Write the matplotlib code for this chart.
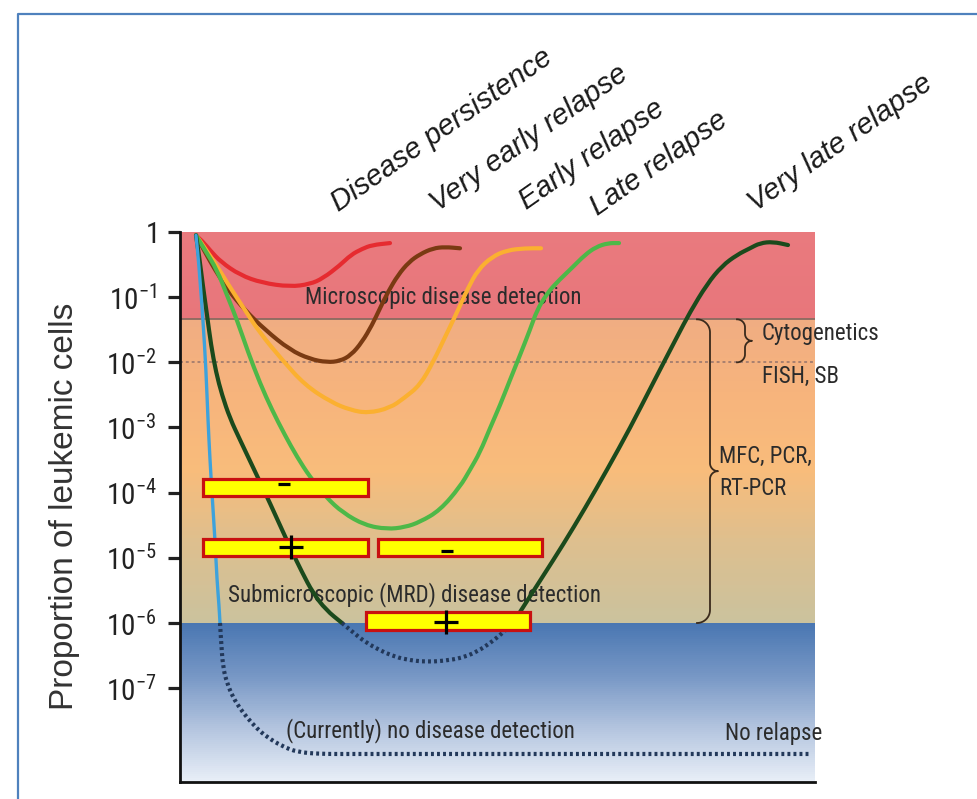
import numpy as np
import matplotlib
matplotlib.use("Agg")
import matplotlib.pyplot as plt
from matplotlib.colors import LinearSegmentedColormap
from matplotlib.lines import Line2D
from matplotlib.patches import Rectangle, PathPatch
from matplotlib.path import Path

# x: time after diagnosis (arbitrary units), y values: log10(proportion of leukemic cells)
t_persist = [16, 23, 30, 41, 60, 82, 110, 130, 143, 160, 171, 182, 192, 210]
l_persist = [-0.05, -0.15, -0.28, -0.46, -0.66, -0.78, -0.84, -0.80, -0.71, -0.51, -0.35, -0.26, -0.20, -0.17]

t_very_early = [16, 25, 35, 48, 65, 85, 110, 130, 147, 160, 171, 182, 192, 200, 208, 218, 229, 240, 253,
                265, 280]
l_very_early = [-0.05, -0.31, -0.58, -0.89, -1.20, -1.50, -1.81, -1.95, -2.00, -1.98, -1.89, -1.69, -1.43,
                -1.17, -0.92, -0.66, -0.46, -0.34, -0.25, -0.23, -0.25]

t_early = [16, 32, 48, 65, 80, 102, 125, 151, 170, 188, 210, 224, 240, 253, 267, 278, 288, 298, 312, 327, 345, 361]
l_early = [-0.05, -0.40, -0.80, -1.20, -1.55, -1.96, -2.35, -2.61, -2.73, -2.78, -2.70, -2.55, -2.35, -2.00,
           -1.55, -1.20, -0.86, -0.58, -0.38, -0.28, -0.25, -0.25]

t_late = [16, 25, 37, 47, 57, 68, 80, 92, 105, 117, 130, 146, 163, 185, 207, 225, 240, 260, 280, 290, 300,
          310, 320, 330, 340, 350, 357, 366, 375, 392, 405, 416, 428, 439]
l_late = [-0.05, -0.28, -0.58, -0.97, -1.35, -1.84, -2.32, -2.73, -3.12, -3.45, -3.76, -4.07, -4.31, -4.50,
          -4.56, -4.53, -4.45, -4.27, -3.91, -3.65, -3.38, -3.01, -2.66, -2.27, -1.89, -1.50, -1.20, -0.97,
          -0.80, -0.55, -0.35, -0.23, -0.17, -0.17]

t_very_late = [16, 19, 23, 27, 31, 36, 42, 50, 60, 73, 90, 110, 122, 133, 146, 162,
               172, 185, 200, 212, 225, 247, 270, 285, 298, 310, 322, 333,
               343, 363, 383, 405, 427, 450, 473, 497, 510, 527, 542, 557, 570, 580, 593, 608]
l_very_late = [-0.05, -0.35, -0.84, -1.27, -1.73, -2.15, -2.50, -2.86, -3.19, -3.61, -4.16, -4.84, -5.22,
               -5.54, -5.80, -6.00,
               -6.13, -6.29, -6.42, -6.50, -6.56, -6.60, -6.57, -6.52, -6.43, -6.31, -6.16, -6.00,
               -5.76, -5.28, -4.80, -4.24, -3.65, -3.01, -2.32, -1.61, -1.23, -0.80, -0.52, -0.35,
               -0.25, -0.17, -0.15, -0.20]

t_no_relapse = [16, 18, 20, 23, 26, 28, 30, 32, 35, 37, 39, 40, 41, 43, 47, 53, 60, 67, 77, 87, 102, 117,
                140, 170, 630]
l_no_relapse = [-0.05, -0.35, -0.74, -1.35, -2.12, -2.89, -3.50, -4.01, -4.73, -5.34, -5.73, -6.00, -6.26,
                -6.68, -6.92, -7.14, -7.31, -7.45, -7.62, -7.75, -7.89, -7.98, -8.01, -8.01, -8.01]

# detection thresholds (log10)
microscopic_limit = -1.34
cytogenetic_limit = -2.0
mrd_limit = -6.0

# MRD test results drawn as yellow bars
bar_start = [23, 23, 198, 186]
bar_end = [188, 188, 362, 350]
bar_level = [-3.92, -4.84, -4.84, -5.97]
bar_sign = ["-", "+", "-", "+"]
sign_t = [104, 111, 267, 266]
sign_level = [-3.86, -4.84, -4.89, -5.98]

outcome_labels = ["Disease persistence", "Very early relapse", "Early relapse", "Late relapse",
                  "Very late relapse"]
tick_labels = ["1"] + [r"10^{-%d}" % k for k in range(1, 8)]

COND = ["Roboto Condensed", "Liberation Sans", "DejaVu Sans"]
plt.rcParams["mathtext.fontset"] = "custom"
plt.rcParams["mathtext.rm"] = "Roboto Condensed"
TXT = "#2b2b2b"
DOTS = "#22385a"

fig = plt.figure(figsize=(9.78, 7.99), dpi=100)
ax = fig.add_axes([180 / 978, 1 - 782 / 799, 635 / 978, 550 / 799])
ax.set_yscale("log")
ax.set_xlim(0, 635)
ax.set_ylim(10 ** -8.44, 1)


def band(lo, hi, colors):
    # vertical gradient between two log10 levels
    cmap = LinearSegmentedColormap.from_list("band", colors)
    yy = np.logspace(lo, hi, 80)
    z = np.linspace(0, 1, 79).reshape(-1, 1)
    ax.pcolormesh([0, 635], yy, z, cmap=cmap, shading="flat", edgecolors="none",
                  antialiased=False, zorder=0)


band(microscopic_limit, 0, ["#e8767b", "#e97a7e"])
band(mrd_limit, microscopic_limit, ["#cbc29d", "#dcbf8f", "#f8bc7b", "#f7b47c", "#f0ad82"])
band(-8.44, mrd_limit, ["#e8eef7", "#b4c5df", "#7797c5", "#4a77b2"])

ax.plot([0, 635], [10 ** microscopic_limit] * 2, color="#8a6a60", lw=1.3, zorder=1)
ax.plot([0, 635], [10 ** cytogenetic_limit] * 2, color="#a8806f", lw=1.4, ls=(0, (1.5, 1.5)), zorder=1)


def smooth(t, logv):
    # quadratic bezier through the midpoints, built in (t, log10) space
    pts = np.column_stack([t, logv])
    verts, codes = [pts[0]], [Path.MOVETO]
    for i in range(1, len(pts) - 1):
        verts += [pts[i], (pts[i] + pts[i + 1]) / 2]
        codes += [Path.CURVE3, Path.CURVE3]
    verts.append(pts[-1])
    codes.append(Path.LINETO)
    verts = np.array(verts)
    verts[:, 1] = 10.0 ** verts[:, 1]
    return Path(verts, codes)


def course(t, logv, color, lw=3.0):
    t = np.asarray(t, float)
    logv = np.asarray(logv, float)
    # split into runs above (solid) and below (dotted) the MRD detection limit
    below = [(logv[i] <= mrd_limit) and (logv[i + 1] <= mrd_limit) for i in range(len(t) - 1)]
    start = 0
    for i in range(1, len(below) + 1):
        if i == len(below) or below[i] != below[start]:
            seg = slice(start, i + 1)
            if below[start]:
                patch = PathPatch(smooth(t[seg], logv[seg]), fill=False, ec=DOTS, lw=3.0,
                                  ls=(0, (0.7, 0.75)), zorder=4)
            else:
                patch = PathPatch(smooth(t[seg], logv[seg]), fill=False, ec=color, lw=lw,
                                  capstyle="round", joinstyle="round", zorder=4)
            ax.add_patch(patch)
            start = i


course(t_persist, l_persist, "#e62b30")
course(t_very_early, l_very_early, "#7a3a12")
course(t_early, l_early, "#fbb030")
course(t_late, l_late, "#4db848")
course(t_very_late, l_very_late, "#1b4a1c")
course(t_no_relapse, l_no_relapse, "#3da2dc", lw=2.4)

# test result bars
for t0, t1, c in zip(bar_start, bar_end, bar_level):
    y0, y1 = 10 ** (c - 0.135), 10 ** (c + 0.135)
    ax.add_patch(Rectangle((t0, y0), t1 - t0, y1 - y0, fc="#ffff00", ec="#c81010", lw=2.3, zorder=5))
for s, ts, ls in zip(bar_sign, sign_t, sign_level):
    if s == "+":
        ax.plot(ts, 10 ** ls, marker="+", ms=17, mew=2.3, color="black", zorder=6)
    else:
        ax.plot(ts, 10 ** ls, marker="_", ms=8, mew=2.3, color="black", zorder=6)


def brace(x0, top, bottom, r1, r2, k=65.14):
    # curly brace opening to the left, in (time, log10) space with k px per decade
    mid = (top + bottom) / 2
    a = np.linspace(np.pi / 2, 0, 20)
    b = np.linspace(np.pi, 1.5 * np.pi, 20)
    xs = np.concatenate([x0 + r1 * np.cos(a), x0 + r1 + r2 + r2 * np.cos(b)])
    ys = np.concatenate([top - r1 / k + r1 / k * np.sin(a), mid + r2 / k + r2 / k * np.sin(b)])
    xs = np.concatenate([xs, xs[::-1]])
    ys = np.concatenate([ys, (2 * mid - ys)[::-1]])
    ax.plot(xs, 10 ** ys, color="#3a2a1c", lw=1.3, clip_on=False, zorder=3)


brace(517, microscopic_limit, mrd_limit, 13, 8)
brace(557, microscopic_limit, cytogenetic_limit, 8, 7)

notes = [
    (125, -1.00, "Microscopic disease detection"),
    (48, -5.57, "Submicroscopic (MRD) disease detection"),
    (106, -7.65, "(Currently) no disease detection"),
    (545, -7.69, "No relapse"),
    (582, -1.55, "Cytogenetics"),
    (582, -2.22, "FISH, SB"),
    (539, -3.45, "MFC, PCR,"),
    (539, -3.93, "RT-PCR"),
]
for tx, ly, s in notes:
    ax.text(tx, 10 ** ly, s, ha="left", va="center", fontsize=16.5, family=COND, color=TXT,
            clip_on=False, zorder=2)

# axes styling
for side in ["top", "right"]:
    ax.spines[side].set_visible(False)
for side in ["left", "bottom"]:
    ax.spines[side].set_linewidth(2.0)
    ax.spines[side].set_color("#111111")
ax.set_xticks([])
ax.set_yticks(10.0 ** -np.arange(8))
ax.set_yticklabels([r"$\mathrm{%s}$" % s for s in tick_labels])
ax.yaxis.set_minor_locator(matplotlib.ticker.NullLocator())
ax.tick_params(axis="y", direction="out", length=9, width=2.3, color="#222222",
               labelsize=21, labelcolor="#222222", pad=8)

fig.text(65 / 978, 1 - 506 / 799, "Proportion of leukemic cells", rotation=90, ha="center",
         va="center", fontsize=24, family=["Liberation Sans", "DejaVu Sans"], color="#333333")

# outcome labels, rotated above the plot
label_xy = [(339, 212), (438, 212), (527, 210), (598, 216), (756, 212)]
for (px, py), s in zip(label_xy, outcome_labels):
    fig.text(px / 978, 1 - py / 799, s, rotation=35, rotation_mode="anchor", ha="left",
             va="baseline", fontsize=21, style="italic", family=["Liberation Sans", "DejaVu Sans"],
             color="#1a1a1a")

# blue frame around the figure
fig.add_artist(Line2D([18 / 978, 18 / 978, 1.0], [0.0, 1 - 14 / 799, 1 - 14 / 799],
                      transform=fig.transFigure, color="#4f81bd", lw=1.6))

fig.savefig("out.png", dpi=100)
